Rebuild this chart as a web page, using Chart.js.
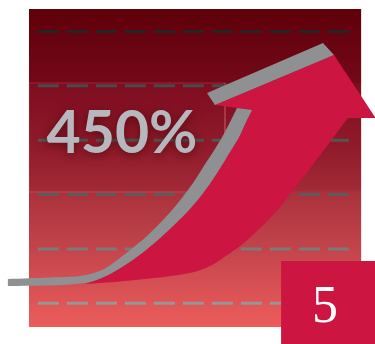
<!DOCTYPE html>
<html>
<head>
<meta charset="utf-8">
<title>450%</title>
<script src="https://cdn.jsdelivr.net/npm/chart.js@4.4.1/dist/chart.umd.min.js"></script>
<style>
    html, body { margin: 0; padding: 0; background: #ffffff; }
    #wrap { width: 375px; height: 344px; position: relative; }
</style>
</head>
<body>
<div id="wrap"><canvas id="growthCanvas"></canvas></div>
<script>
// Grid levels (percent) and their dash colours, top ones darker
const gridValues = [0, 100, 200, 300, 400, 500];
const gridColors = ['#979797', '#7a7a7a', '#5c5c5c', '#545454', '#4a4a4a', '#252525'];
const gridStart = 0;
const gridEnd = 10;

// Background panel
const panelX = [-0.28, 10.26, 10.26, -0.28];
const panelY = [541.5, 541.5, -43.7, -43.7];

// Faint box behind the label
const boxX = [-0.28, 5.94, 5.94, -0.28, -0.28];
const boxY = [405.3, 405.3, 204.7, 204.7, 405.3];

// Grey ribbon: outer edge then inner edge (corner points repeated to keep them sharp)
const ribbonX = [-0.95, 0.39, 1.34, 1.97, 2.39, 2.93, 3.43, 3.88, 4.29, 4.67, 4.99, 5.27, 5.56, 5.85, 6.10, 6.32, 6.32,
    6.80, 6.80, 6.61, 6.39, 6.10, 5.81, 5.50, 5.15, 4.74, 4.29, 3.81, 3.31, 2.77, 2.23, 1.66, 1.02, 0.39, -0.95];
const ribbonY = [44.6, 47.4, 50.1, 59.3, 74.1, 98.0, 121.9, 147.7, 173.4, 201.0, 226.8, 252.6, 278.3, 305.9, 333.5, 359.3, 359.3,
    355.6, 355.6, 333.5, 305.9, 278.3, 250.7, 223.1, 195.5, 167.9, 142.1, 116.4, 92.5, 70.4, 52.0, 39.1, 34.5, 32.65, 31.7];

// Red arrow: inner side, head, outer side back to the start
const arrowX = [1.50, 1.66, 2.23, 2.77, 3.31, 3.81, 4.29, 4.74, 5.15, 5.50, 5.81, 6.10, 6.39, 6.61, 6.80, 6.80,
    5.62, 5.62, 9.40, 9.40, 10.72, 10.72, 9.84, 9.84,
    8.77, 7.69, 7.31, 6.89, 6.42, 5.97, 5.53, 5.02, 4.35, 3.56, 2.61, 1.50];
const arrowY = [35.4, 39.1, 52.0, 70.4, 92.5, 116.4, 142.1, 167.9, 195.5, 223.1, 250.7, 278.3, 305.9, 333.5, 355.6, 355.6,
    364.8, 364.8, 456.8, 456.8, 340.9, 340.9, 340.9, 340.9,
    258.1, 177.1, 153.2, 129.3, 105.3, 86.9, 70.4, 58.4, 51.05, 45.5, 40.0, 35.4];

// Grey strip along the arrow head
const stripX = [5.37, 9.05, 9.40, 5.62];
const stripY = [386.9, 478.9, 456.8, 364.8];

// Red badge
const badgeX = [7.72, 10.75, 10.75, 7.72];
const badgeY = [77.7, 77.7, -76, -76];

// Texts
const labelTexts = ['450%', '5'];
const labelX = [2.67, 9.11];
const labelY = [276.5, -34.5];

function toPoints(xs, ys) {
    return xs.map((x, i) => ({ x: x, y: ys[i] }));
}

// Panel gradient from dark maroon to coral
function panelGradient(context) {
    const chart = context.chart;
    const yScale = chart.scales.y;
    if (!chart.chartArea || !yScale) return '#a0283a';
    const top = yScale.getPixelForValue(panelY[0]);
    const bottom = yScale.getPixelForValue(panelY[2]);
    if (!isFinite(top) || !isFinite(bottom)) return '#a0283a';
    const g = chart.ctx.createLinearGradient(0, top, 0, bottom);
    g.addColorStop(0, '#5e000a');
    g.addColorStop(0.23, '#740818');
    g.addColorStop(0.235, '#7e0d20');
    g.addColorStop(0.43, '#8f1a2a');
    g.addColorStop(0.57, '#a22a37');
    g.addColorStop(0.575, '#aa313b');
    g.addColorStop(0.75, '#c2444b');
    g.addColorStop(1, '#ec5d5c');
    return g;
}

function shape(label, xs, ys, color, order, tension) {
    return {
        label: label,
        data: toPoints(xs, ys),
        showLine: true,
        fill: 'shape',
        backgroundColor: color,
        borderWidth: 0,
        pointRadius: 0,
        tension: tension || 0,
        order: order
    };
}

const datasets = [];
datasets.push(shape('badge', badgeX, badgeY, '#cc1540', 0));
datasets.push(shape('ribbon', ribbonX, ribbonY, '#8f9092', 1, 0.3));
datasets.push(shape('strip', stripX, stripY, '#8f9092', 2));
datasets.push(shape('arrow', arrowX, arrowY, '#cc1540', 3, 0.3));

gridValues.forEach((v, i) => {
    datasets.push({
        label: 'grid ' + v,
        data: [{ x: gridStart, y: v }, { x: gridEnd, y: v }],
        showLine: true,
        fill: false,
        borderColor: gridColors[i],
        borderWidth: 3,
        borderDash: [21, 8],
        borderCapStyle: 'butt',
        pointRadius: 0,
        order: 5
    });
});

datasets.push({
    label: 'box',
    data: toPoints(boxX, boxY),
    showLine: true,
    fill: false,
    borderColor: 'rgba(255, 150, 160, 0.22)',
    borderWidth: 1,
    pointRadius: 0,
    order: 6
});
datasets.push(shape('panel', panelX, panelY, panelGradient, 7));

// Draw the texts on top
const labelPlugin = {
    id: 'labels',
    afterDatasetsDraw(chart) {
        const ctx = chart.ctx;
        const xs = chart.scales.x;
        const ys = chart.scales.y;
        ctx.save();
        ctx.textAlign = 'center';
        ctx.textBaseline = 'alphabetic';

        // big percentage
        ctx.font = 'bold 59px Lato, "Open Sans", sans-serif';
        ctx.shadowColor = 'rgba(50, 0, 5, 0.55)';
        ctx.shadowBlur = 10;
        ctx.shadowOffsetY = 2;
        ctx.fillStyle = '#b6b8bd';
        ctx.fillText(labelTexts[0], xs.getPixelForValue(labelX[0]), ys.getPixelForValue(labelY[0]));

        // badge number
        ctx.shadowColor = 'transparent';
        ctx.shadowBlur = 0;
        ctx.shadowOffsetY = 0;
        ctx.font = '52px "Liberation Serif", "DejaVu Serif", serif';
        ctx.fillStyle = '#ffffff';
        ctx.fillText(labelTexts[1], xs.getPixelForValue(labelX[1]), ys.getPixelForValue(labelY[1]));
        ctx.restore();
    }
};

new Chart(document.getElementById('growthCanvas'), {
    type: 'scatter',
    data: { datasets: datasets },
    options: {
        responsive: true,
        maintainAspectRatio: false,
        animation: false,
        layout: { padding: 0 },
        plugins: {
            legend: { display: false },
            tooltip: { enabled: false }
        },
        scales: {
            x: { type: 'linear', min: -1.2, max: 10.7, display: false },
            y: { type: 'linear', min: -75, max: 558, display: false }
        }
    },
    plugins: [labelPlugin]
});
</script>
</body>
</html>
